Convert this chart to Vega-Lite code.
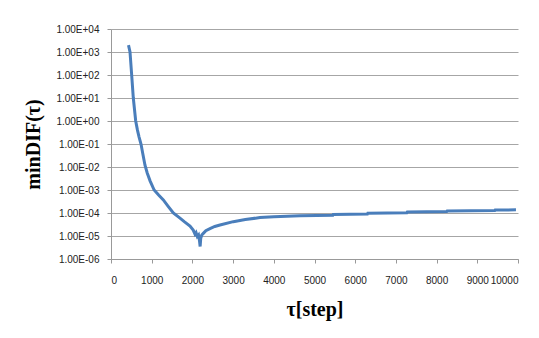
{
  "$schema": "https://vega.github.io/schema/vega-lite/v6.json",
  "width": 407,
  "height": 230,
  "autosize": "none",
  "padding": {"left": 111, "top": 29, "right": 21, "bottom": 79},
  "background": "white",
  "config": {"view": {"stroke": null}},
  "data": {"values": [
    {"step": 430, "v": 2000},
    {"step": 467, "v": 1000},
    {"step": 508, "v": 100},
    {"step": 548, "v": 10},
    {"step": 607, "v": 1},
    {"step": 650, "v": 0.4},
    {"step": 690, "v": 0.2},
    {"step": 737, "v": 0.1},
    {"step": 785, "v": 0.035},
    {"step": 835, "v": 0.012},
    {"step": 890, "v": 0.0055},
    {"step": 960, "v": 0.0025},
    {"step": 1060, "v": 0.001},
    {"step": 1170, "v": 0.0006},
    {"step": 1286, "v": 0.00037},
    {"step": 1400, "v": 0.0002},
    {"step": 1531, "v": 0.0001},
    {"step": 1695, "v": 0.00006},
    {"step": 1800, "v": 0.000042},
    {"step": 1941, "v": 0.000027},
    {"step": 2020, "v": 0.000018},
    {"step": 2064, "v": 0.000012},
    {"step": 2090, "v": 0.000014},
    {"step": 2120, "v": 0.0000095},
    {"step": 2150, "v": 0.000011},
    {"step": 2175, "v": 0.000006},
    {"step": 2190, "v": 0.0000035},
    {"step": 2205, "v": 0.000008},
    {"step": 2230, "v": 0.000011},
    {"step": 2268, "v": 0.000013},
    {"step": 2330, "v": 0.000017},
    {"step": 2432, "v": 0.000021},
    {"step": 2550, "v": 0.000026},
    {"step": 2678, "v": 0.00003},
    {"step": 3005, "v": 0.000042},
    {"step": 3300, "v": 0.000052},
    {"step": 3661, "v": 0.000063},
    {"step": 4000, "v": 0.000068},
    {"step": 4644, "v": 0.000076},
    {"step": 5450, "v": 0.00008},
    {"step": 5460, "v": 0.000086},
    {"step": 6300, "v": 0.00009},
    {"step": 6310, "v": 0.000098},
    {"step": 7270, "v": 0.000103},
    {"step": 7280, "v": 0.00011},
    {"step": 8250, "v": 0.000115},
    {"step": 8260, "v": 0.000122},
    {"step": 9430, "v": 0.000127},
    {"step": 9440, "v": 0.000135},
    {"step": 9950, "v": 0.000137}
  ]},
  "mark": {"type": "line", "color": "#4a7ebb", "strokeWidth": 3, "clip": true},
  "encoding": {
    "x": {
      "field": "step", "type": "quantitative",
      "scale": {"domain": [0, 10000], "nice": false},
      "axis": {
        "values": [0, 1000, 2000, 3000, 4000, 5000, 6000, 7000, 8000, 9000, 10000],
        "format": "d",
        "grid": false,
        "domainColor": "#999999",
        "tickColor": "#999999",
        "tickSize": 4,
        "labelFont": "Liberation Sans",
        "labelFontSize": 10,
        "labelColor": "#222222",
        "labelPadding": 12,
        "title": "τ[step]",
        "titleFont": "Liberation Serif",
        "titleFontSize": 20,
        "titleFontWeight": "bold",
        "titleColor": "#000000",
        "titlePadding": 14
      }
    },
    "y": {
      "field": "v", "type": "quantitative",
      "scale": {"type": "log", "domain": [0.000001, 10000], "nice": false},
      "axis": {
        "values": [0.000001, 0.00001, 0.0001, 0.001, 0.01, 0.1, 1, 10, 100, 1000, 10000],
        "labelExpr": "'1.00E' + (round(log(datum.value)/LN10) >= 0 ? '+' : '-') + '0' + abs(round(log(datum.value)/LN10))",
        "grid": true,
        "gridColor": "#a6a6a6",
        "gridWidth": 1,
        "domainColor": "#999999",
        "tickColor": "#999999",
        "tickSize": 4,
        "labelFont": "Liberation Sans",
        "labelFontSize": 10,
        "labelColor": "#222222",
        "labelPadding": 8,
        "title": "minDIF(τ)",
        "titleFont": "Liberation Serif",
        "titleFontSize": 20,
        "titleFontWeight": "bold",
        "titleColor": "#000000",
        "titlePadding": 12
      }
    }
  }
}
